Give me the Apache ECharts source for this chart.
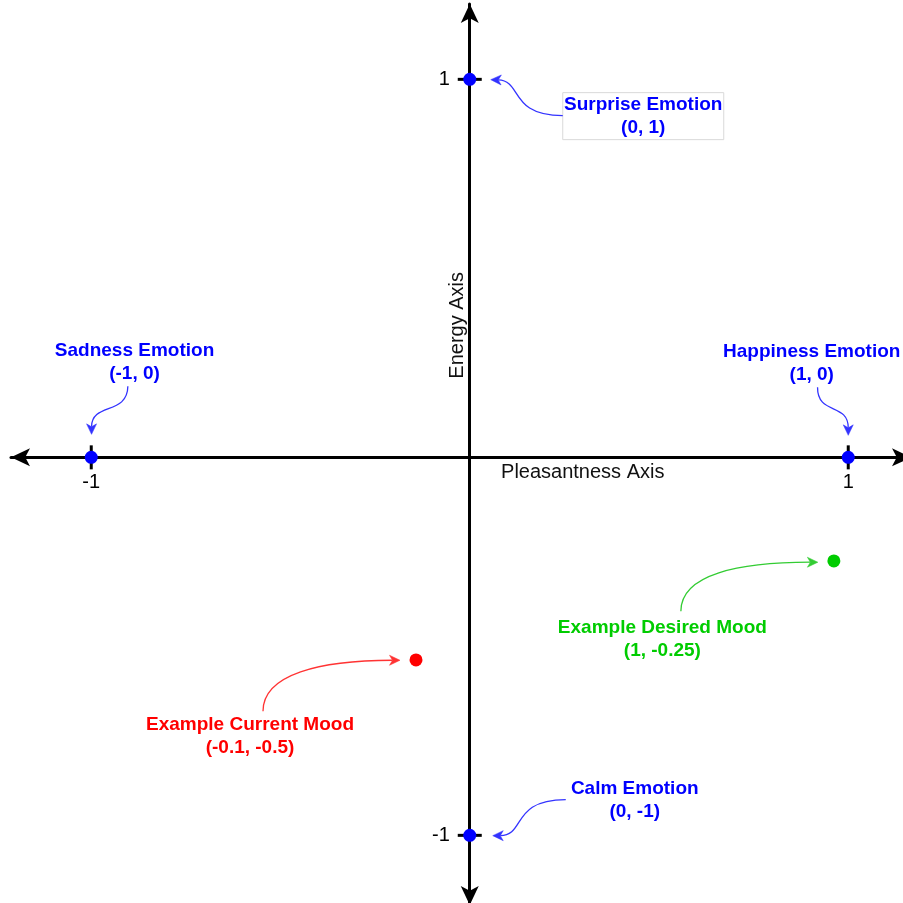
<!DOCTYPE html>
<html>
<head>
<meta charset="utf-8">
<script src="https://cdn.jsdelivr.net/npm/echarts@6/dist/echarts.min.js"></script>
<style>
html,body{margin:0;padding:0;background:#ffffff;}
#chart{width:903px;height:903px;}
</style>
</head>
<body>
<div id="chart"></div>
<script>
// ---------------- Data ----------------
const emotionNames = ['Surprise Emotion', 'Sadness Emotion', 'Happiness Emotion', 'Calm Emotion'];
const emotionCaptions = ['(0, 1)', '(-1, 0)', '(1, 0)', '(0, -1)'];
const emotionX = [0, -1, 1, 0];
const emotionY = [1, 0, 0, -1];

const moodNames = ['Example Current Mood', 'Example Desired Mood'];
const moodCaptions = ['(-0.1, -0.5)', '(1, -0.25)'];
const moodX = [-0.142, 0.962];
const moodY = [-0.536, -0.274];

const xTickValues = [-1, 1];
const yTickValues = [-1, 1];
const xTickLabels = ['-1', '1'];
const yTickLabels = ['-1', '1'];
const xAxisTitle = 'Pleasantness Axis';
const yAxisTitle = 'Energy Axis';

// ---------------- Layout (pixel offsets relative to the annotated mark) ----------------
const emotionLayout = [
  { label: [173.5, 36.8], box: [161, 47], arrow: [[93, 36.3], [39, 36.3], [53, 1.3], [21, 0.3]] },
  { label: [43.3, -95.5], arrow: [[36.6, -71], [36.3, -42], [0.3, -55], [0.3, -23]] },
  { label: [-36.5, -94], arrow: [[-30.7, -70], [-31, -42], [0, -55], [0, -22]] },
  { label: [165, -34.7], arrow: [[96, -35.7], [41, -35.7], [56, 0.3], [23, 0.3]] }
];
const moodLayout = [
  { label: [-166, 76.3], arrow: [[-153, 51.3], [-153, 14.3], [-96, 0.3], [-16, 0.3]] },
  { label: [-171.5, 78.3], arrow: [[-153, 50.3], [-153, 13.3], [-95, 1.3], [-16, 1.3]] }
];
const axisTitleLayout = { x: [113, 15], y: [-12, -132] };

const FONT = "'Liberation Sans', Arial, sans-serif";

function annotationSeries(xs, ys, names, captions, layout, textColors, arrowColors) {
  return {
    type: 'custom',
    coordinateSystem: 'cartesian2d',
    silent: true,
    z: 4,
    data: xs.map(function (x, i) { return [x, ys[i]]; }),
    renderItem: function (params, api) {
      const i = params.dataIndex;
      const p = api.coord([api.value(0), api.value(1)]);
      const L = layout[i];
      const pts = L.arrow.map(function (o) { return [p[0] + o[0], p[1] + o[1]]; });
      const tip = pts[3], c2 = pts[2];
      const dx = tip[0] - c2[0], dy = tip[1] - c2[1];
      const len = Math.sqrt(dx * dx + dy * dy) || 1;
      const ux = dx / len, uy = dy / len;
      const nx = -uy, ny = ux;
      const hl = 10.5, hw = 5, notch = 7.5;
      const base = [tip[0] - ux * hl, tip[1] - uy * hl];
      const nPt = [tip[0] - ux * notch, tip[1] - uy * notch];
      const ac = arrowColors[i];
      const children = [];
      if (L.box) {
        children.push({
          type: 'rect',
          shape: { x: p[0] + L.label[0] - L.box[0] / 2, y: p[1] + L.label[1] - L.box[1] / 2, width: L.box[0], height: L.box[1] },
          style: { fill: '#ffffff', stroke: '#d9d9d9', lineWidth: 1 }
        });
      }
      children.push({
        type: 'bezierCurve',
        shape: { x1: pts[0][0], y1: pts[0][1], cpx1: pts[1][0], cpy1: pts[1][1], cpx2: pts[2][0], cpy2: pts[2][1], x2: nPt[0], y2: nPt[1] },
        style: { stroke: ac, lineWidth: 1.3, fill: null }
      });
      children.push({
        type: 'polygon',
        shape: { points: [tip, [base[0] + nx * hw, base[1] + ny * hw], nPt, [base[0] - nx * hw, base[1] - ny * hw]] },
        style: { fill: ac, stroke: ac, lineWidth: 0.5 }
      });
      children.push({
        type: 'text',
        x: p[0] + L.label[0],
        y: p[1] + L.label[1],
        style: {
          text: names[i] + '\n' + captions[i],
          fill: textColors[i],
          fontSize: 19,
          fontWeight: 'bold',
          fontFamily: FONT,
          align: 'center',
          verticalAlign: 'middle',
          lineHeight: 23
        }
      });
      return { type: 'group', children: children };
    }
  };
}

const chart = echarts.init(document.getElementById('chart'), null, { renderer: 'canvas' });

const option = {
  animation: false,
  backgroundColor: '#ffffff',
  grid: { left: 11, right: -8, top: 4, bottom: -2, containLabel: false, outerBoundsMode: 'none' },
  xAxis: {
    type: 'value',
    min: -1.21202,
    max: 1.16579,
    splitLine: { show: false },
    axisTick: { show: false },
    axisLabel: { show: false },
    axisLine: {
      onZero: true,
      symbol: ['arrow', 'arrow'],
      symbolSize: [13.5, 19],
      lineStyle: { color: '#000000', width: 3 }
    }
  },
  yAxis: {
    type: 'value',
    min: -1.18426,
    max: 1.19934,
    splitLine: { show: false },
    axisTick: { show: false },
    axisLabel: { show: false },
    axisLine: {
      onZero: true,
      symbol: ['arrow', 'arrow'],
      symbolSize: [13.5, 19],
      lineStyle: { color: '#000000', width: 3 }
    }
  },
  series: [
    {
      type: 'scatter', silent: true, z: 2,
      symbol: 'rect', symbolSize: [3, 24],
      itemStyle: { color: '#000000', opacity: 1 },
      label: {
        show: true, position: 'bottom', distance: 3,
        fontSize: 20, color: '#000000', fontFamily: FONT,
        formatter: function (p) { return xTickLabels[p.dataIndex]; }
      },
      data: xTickValues.map(function (v) { return [v, 0]; })
    },
    {
      type: 'scatter', silent: true, z: 2,
      symbol: 'rect', symbolSize: [24, 3],
      itemStyle: { color: '#000000', opacity: 1 },
      label: {
        show: true, position: 'left', distance: 8,
        fontSize: 20, color: '#000000', fontFamily: FONT,
        formatter: function (p) { return yTickLabels[p.dataIndex]; }
      },
      data: yTickValues.map(function (v) { return [0, v]; })
    },
    {
      type: 'custom', coordinateSystem: 'cartesian2d', silent: true, z: 3,
      data: [[0, 0]],
      renderItem: function (params, api) {
        const o = api.coord([0, 0]);
        return {
          type: 'group',
          children: [
            {
              type: 'text', x: o[0] + axisTitleLayout.x[0], y: o[1] + axisTitleLayout.x[1],
              style: { text: xAxisTitle, fill: '#111111', fontSize: 20, fontFamily: FONT, align: 'center', verticalAlign: 'middle' }
            },
            {
              type: 'text', x: o[0] + axisTitleLayout.y[0], y: o[1] + axisTitleLayout.y[1], rotation: Math.PI / 2,
              style: { text: yAxisTitle, fill: '#111111', fontSize: 20, fontFamily: FONT, align: 'center', verticalAlign: 'middle' }
            }
          ]
        };
      }
    },
    annotationSeries(emotionX, emotionY, emotionNames, emotionCaptions, emotionLayout,
      ['#0000ff', '#0000ff', '#0000ff', '#0000ff'], ['#3333ff', '#3333ff', '#3333ff', '#3333ff']),
    annotationSeries(moodX, moodY, moodNames, moodCaptions, moodLayout,
      ['#ff0000', '#00cc00'], ['#ff3333', '#33cc33']),
    {
      name: 'Emotions', type: 'scatter', silent: true, z: 5,
      symbol: 'circle', symbolSize: 13,
      itemStyle: { color: '#0000ff', opacity: 1 },
      data: emotionX.map(function (x, i) { return [x, emotionY[i]]; })
    },
    {
      name: 'Moods', type: 'scatter', silent: true, z: 5,
      symbol: 'circle', symbolSize: 13,
      data: moodX.map(function (x, i) {
        return { value: [x, moodY[i]], itemStyle: { color: i === 0 ? '#ff0000' : '#00cc00', opacity: 1 } };
      })
    }
  ]
};
chart.setOption(option);
</script>
</body>
</html>
